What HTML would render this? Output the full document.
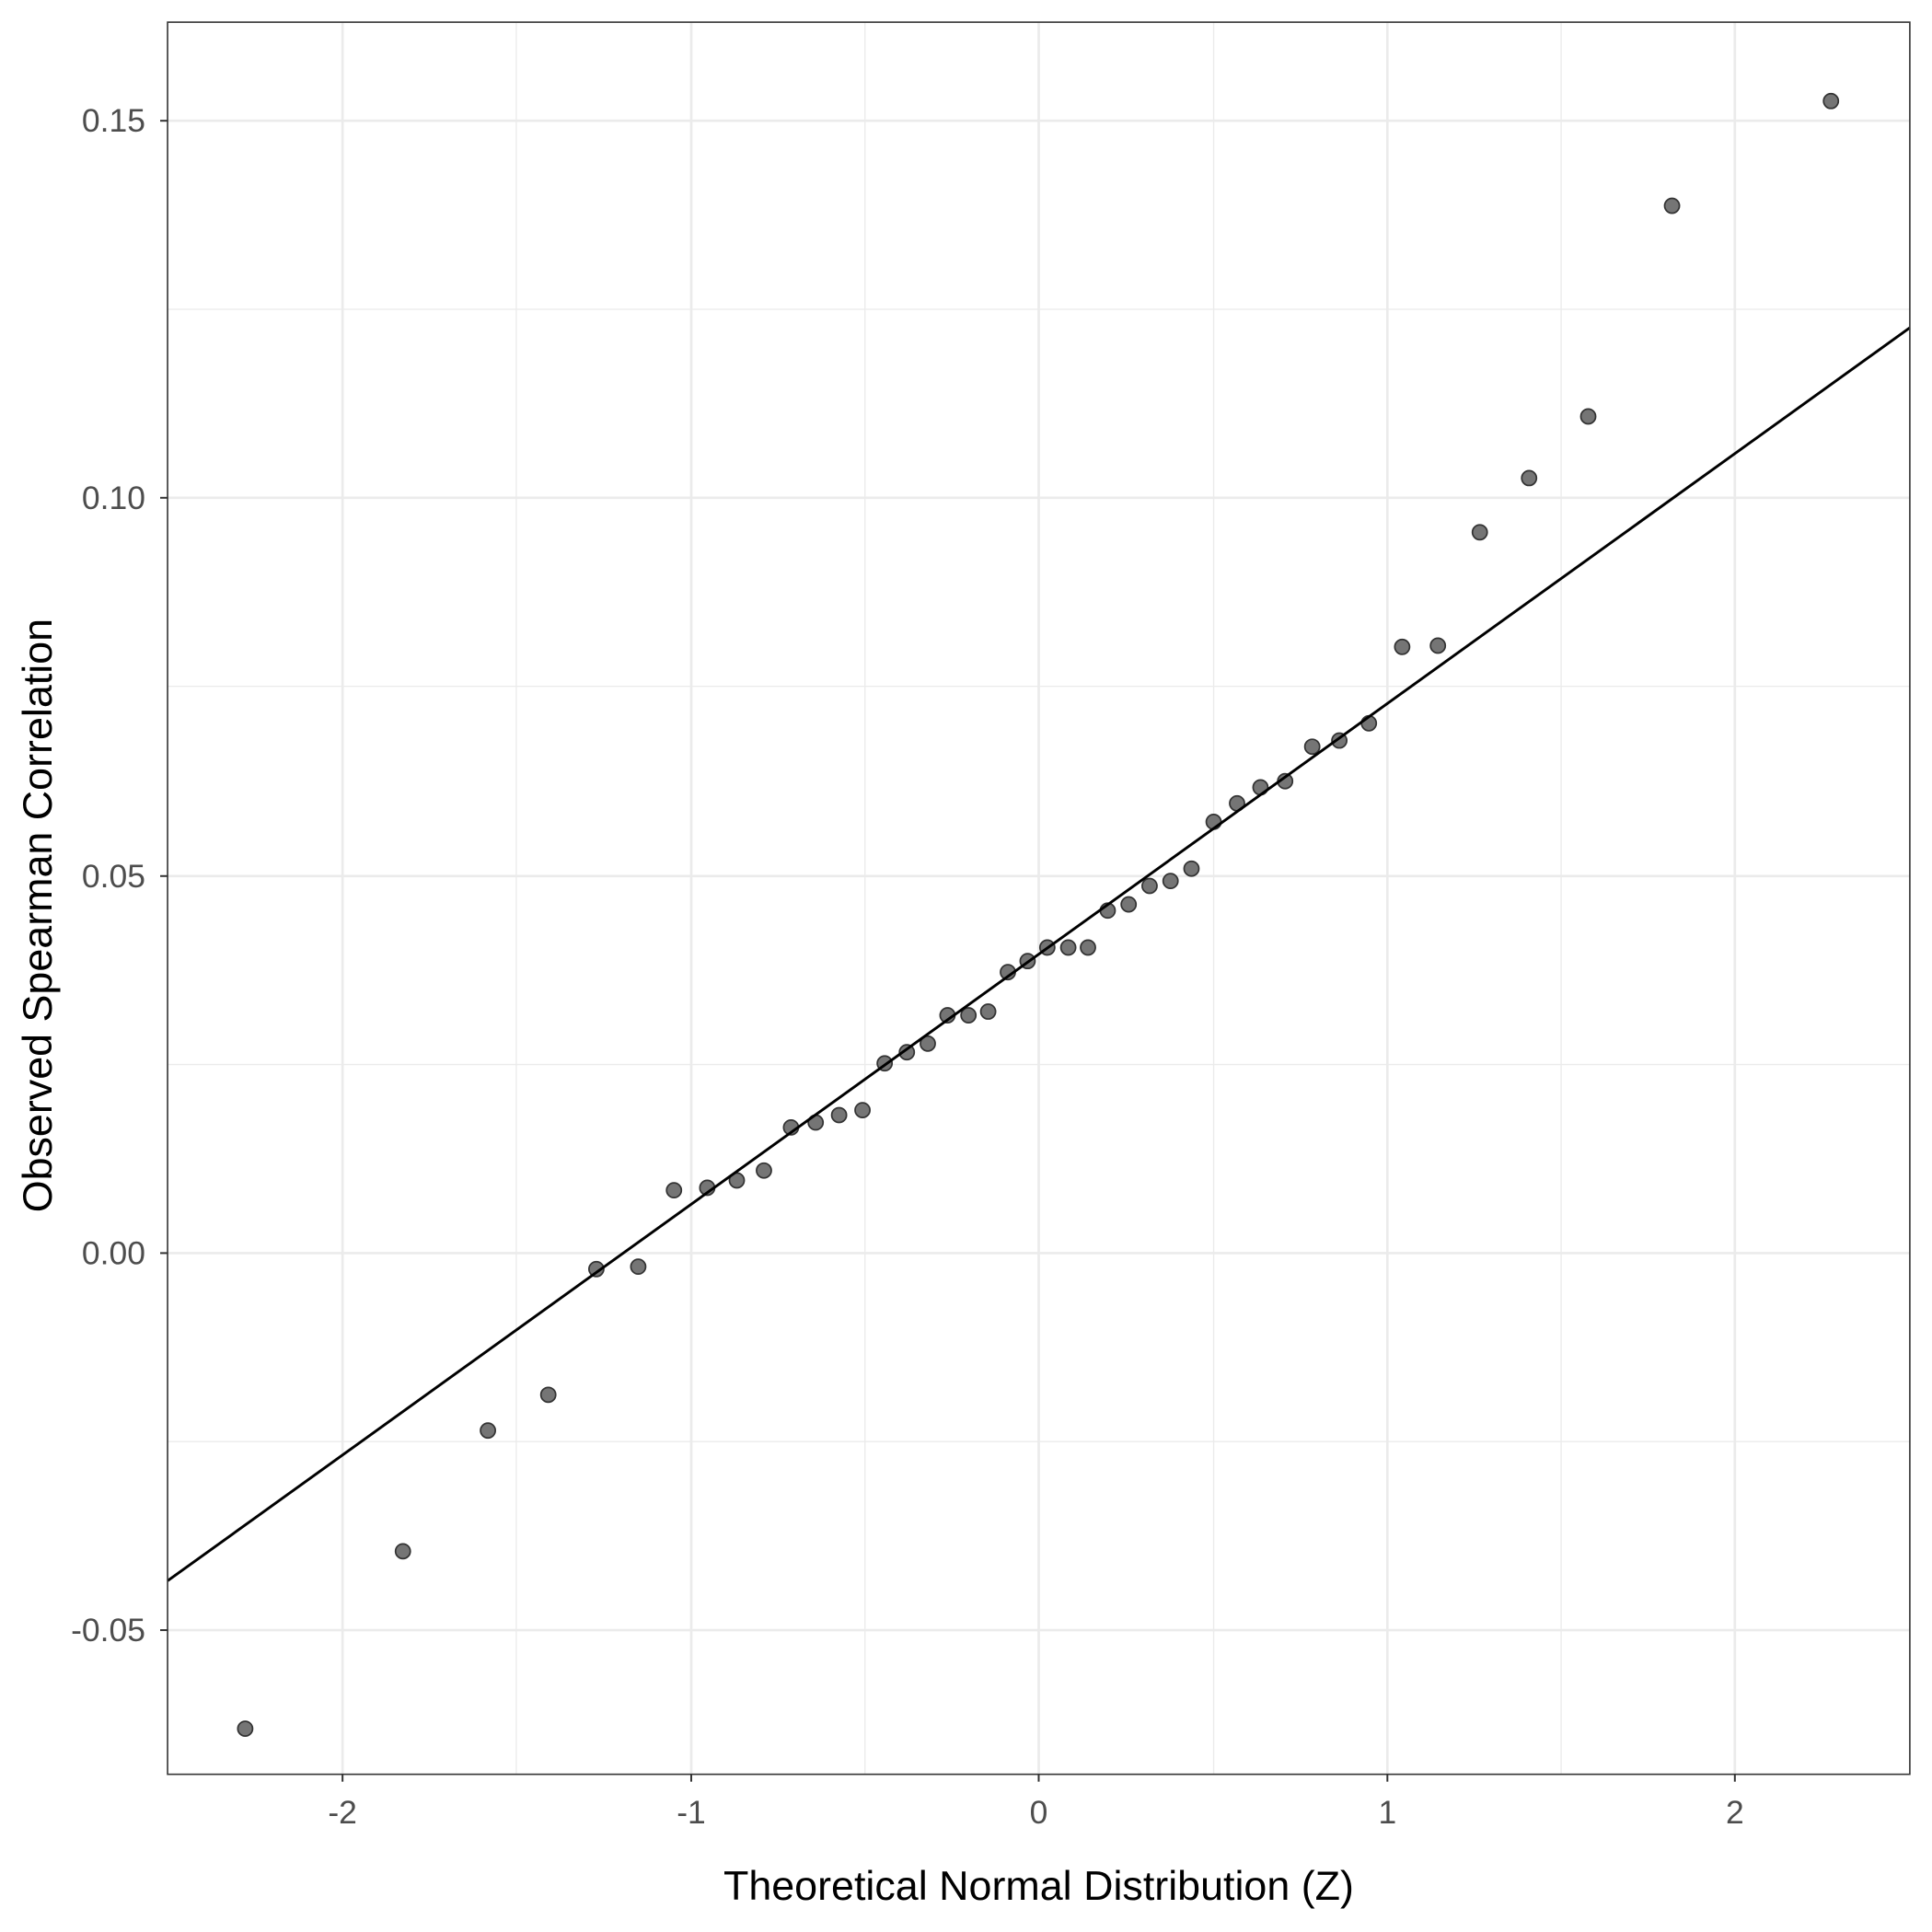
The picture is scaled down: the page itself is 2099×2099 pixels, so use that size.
<!DOCTYPE html>
<html><head><meta charset="utf-8"><style>html,body{margin:0;padding:0;background:#fff}svg{display:block}</style></head>
<body>
<svg xmlns="http://www.w3.org/2000/svg" width="2099" height="2099" viewBox="0 0 1568 1568">
<rect width="1568" height="1568" fill="#fff"/>
<g stroke="#ebebeb" stroke-width="1">
<line x1="419" y1="18" x2="419" y2="1440"/><line x1="702" y1="18" x2="702" y2="1440"/>
<line x1="985" y1="18" x2="985" y2="1440"/><line x1="1267" y1="18" x2="1267" y2="1440"/>
<line x1="136" y1="251" x2="1550" y2="251"/><line x1="136" y1="557" x2="1550" y2="557"/>
<line x1="136" y1="864" x2="1550" y2="864"/><line x1="136" y1="1170" x2="1550" y2="1170"/>
</g>
<g stroke="#ebebeb" stroke-width="2">
<line x1="278" y1="18" x2="278" y2="1440"/><line x1="561" y1="18" x2="561" y2="1440"/>
<line x1="843" y1="18" x2="843" y2="1440"/><line x1="1126" y1="18" x2="1126" y2="1440"/>
<line x1="1408" y1="18" x2="1408" y2="1440"/>
<line x1="136" y1="98" x2="1550" y2="98"/><line x1="136" y1="404" x2="1550" y2="404"/>
<line x1="136" y1="711" x2="1550" y2="711"/><line x1="136" y1="1017" x2="1550" y2="1017"/>
<line x1="136" y1="1323" x2="1550" y2="1323"/>
</g>
<g fill="#757575" stroke="#333" stroke-width="1.3">
<circle cx="199" cy="1403" r="6"/><circle cx="327" cy="1259" r="6"/><circle cx="396" cy="1161" r="6"/><circle cx="445" cy="1132" r="6"/><circle cx="484" cy="1030" r="6"/><circle cx="518" cy="1028" r="6"/><circle cx="547" cy="966" r="6"/><circle cx="574" cy="964" r="6"/><circle cx="598" cy="958" r="6"/><circle cx="620" cy="950" r="6"/><circle cx="642" cy="915" r="6"/><circle cx="662" cy="911" r="6"/><circle cx="681" cy="905" r="6"/><circle cx="700" cy="901" r="6"/><circle cx="718" cy="863" r="6"/><circle cx="736" cy="854" r="6"/><circle cx="753" cy="847" r="6"/><circle cx="769" cy="824" r="6"/><circle cx="786" cy="824" r="6"/><circle cx="802" cy="821" r="6"/><circle cx="818" cy="789" r="6"/><circle cx="834" cy="780" r="6"/><circle cx="850" cy="769" r="6"/><circle cx="867" cy="769" r="6"/><circle cx="883" cy="769" r="6"/><circle cx="899" cy="739" r="6"/><circle cx="916" cy="734" r="6"/><circle cx="933" cy="719" r="6"/><circle cx="950" cy="715" r="6"/><circle cx="967" cy="705" r="6"/><circle cx="985" cy="667" r="6"/><circle cx="1004" cy="652" r="6"/><circle cx="1023" cy="639" r="6"/><circle cx="1043" cy="634" r="6"/><circle cx="1065" cy="606" r="6"/><circle cx="1087" cy="601" r="6"/><circle cx="1111" cy="587" r="6"/><circle cx="1138" cy="525" r="6"/><circle cx="1167" cy="524" r="6"/><circle cx="1201" cy="432" r="6"/><circle cx="1241" cy="388" r="6"/><circle cx="1289" cy="338" r="6"/><circle cx="1357" cy="167" r="6"/><circle cx="1486" cy="82" r="6"/>
</g>
<line x1="136" y1="1283" x2="1550" y2="266" stroke="#000" stroke-width="2.2"/>
<rect x="136" y="18" width="1414" height="1422" fill="none" stroke="#333" stroke-width="1.2"/>
<g stroke="#333" stroke-width="1.5">
<line x1="278" y1="1440" x2="278" y2="1446"/><line x1="561" y1="1440" x2="561" y2="1446"/><line x1="843" y1="1440" x2="843" y2="1446"/><line x1="1126" y1="1440" x2="1126" y2="1446"/><line x1="1408" y1="1440" x2="1408" y2="1446"/>
<line x1="130" y1="98" x2="136" y2="98"/><line x1="130" y1="404" x2="136" y2="404"/><line x1="130" y1="711" x2="136" y2="711"/><line x1="130" y1="1017" x2="136" y2="1017"/><line x1="130" y1="1323" x2="136" y2="1323"/>
</g>
<g font-family="Liberation Sans, sans-serif" font-size="26.5" fill="#4d4d4d">
<g text-anchor="middle"><text x="278" y="1480">-2</text><text x="561" y="1480">-1</text><text x="843" y="1480">0</text><text x="1126" y="1480">1</text><text x="1408" y="1480">2</text></g>
<g text-anchor="end"><text x="118" y="107">0.15</text><text x="118" y="413">0.10</text><text x="118" y="720">0.05</text><text x="118" y="1026">0.00</text><text x="118" y="1332">-0.05</text></g>
</g>
<g font-family="Liberation Sans, sans-serif" font-size="33.5" fill="#000" text-anchor="middle">
<text x="843" y="1542">Theoretical Normal Distribution (Z)</text>
<text transform="translate(42,743) rotate(-90)">Observed Spearman Correlation</text>
</g>
</svg>
</body></html>
